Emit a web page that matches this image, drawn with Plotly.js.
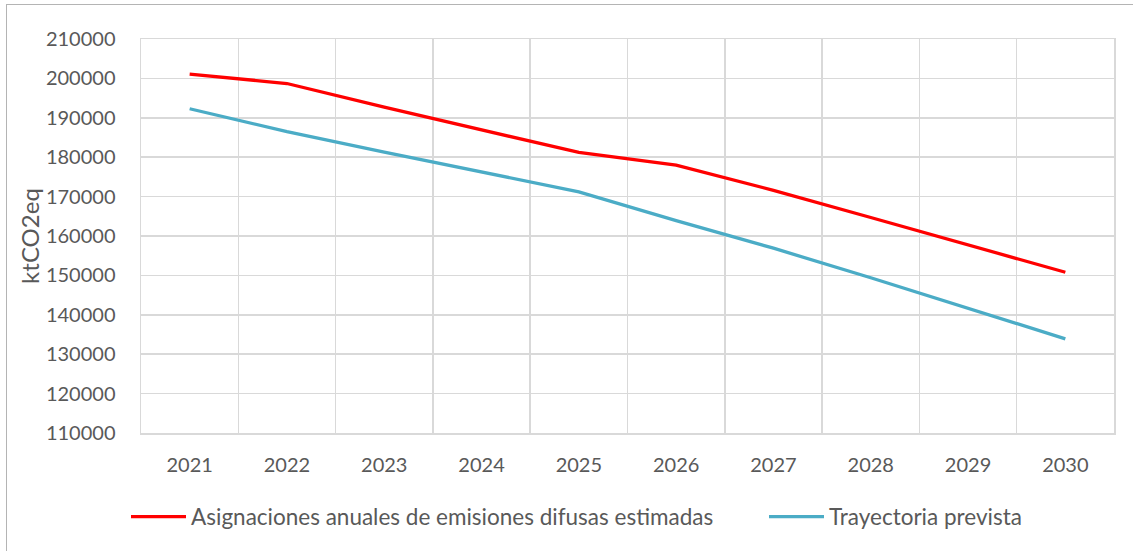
<!DOCTYPE html>
<html>
<head>
<meta charset="utf-8">
<script src="https://cdn.plot.ly/plotly-3.0.1.min.js"></script>
<style>
  html, body { margin: 0; padding: 0; background: #ffffff; }
  #wrap { position: relative; width: 1133px; height: 551px; overflow: hidden; }
  #chart { position: absolute; left: 0; top: 0; width: 1133px; height: 551px; }
  #frame { position: absolute; left: 6px; top: 4px; width: 1200px; height: 600px;
           border-left: 1px solid #b4b4b4; border-top: 1px solid #b4b4b4; pointer-events: none; }
</style>
</head>
<body>
<div id="wrap">
  <div id="chart"></div>
  <div id="frame"></div>
</div>
<script>
// ---- data ----
const years = ["2021", "2022", "2023", "2024", "2025", "2026", "2027", "2028", "2029", "2030"];
const asignaciones = [201100, 198700, 192700, 187000, 181200, 178000, 171600, 164700, 157700, 150800];
const trayectoria = [192300, 186500, 181300, 176200, 171200, 163900, 156900, 149400, 141600, 133900];
const seriesNames = ["Asignaciones anuales de emisiones difusas estimadas", "Trayectoria prevista"];
const yTitle = "ktCO2eq";

const idx = years.map((_, i) => i);
const boundaries = years.map((_, i) => i - 0.5).concat([years.length - 0.5]);

const font = "Lato, 'Open Sans', sans-serif";
const textColor = "#595959";
const gridColor = "#d9d9d9";

const traces = [
  { x: idx, y: asignaciones, name: seriesNames[0], type: "scatter", mode: "lines",
    line: { color: "#ff0000", width: 3.3 }, legend: "legend" },
  { x: idx, y: trayectoria, name: seriesNames[1], type: "scatter", mode: "lines",
    line: { color: "#4bacc6", width: 3.3 }, legend: "legend2" }
];

const legendBase = {
  orientation: "h", xanchor: "left", yanchor: "middle",
  xref: "container", yref: "container", y: 1 - 517 / 551,
  itemwidth: 55,
  font: { family: font, size: 22.5, color: textColor },
  bgcolor: "rgba(0,0,0,0)", borderwidth: 0
};

const layout = {
  width: 1133, height: 551,
  margin: { l: 141, r: 19, t: 39, b: 118, pad: 0 },
  paper_bgcolor: "rgba(0,0,0,0)",
  plot_bgcolor: "#ffffff",
  font: { family: font, size: 20, color: textColor },
  showlegend: true,
  legend: Object.assign({}, legendBase, { x: 126 / 1133 }),
  legend2: Object.assign({}, legendBase, { x: 764 / 1133 }),
  xaxis: {
    range: [-0.5, years.length - 0.5],
    tickmode: "array", tickvals: idx, ticktext: years,
    showgrid: false, zeroline: false,
    ticks: "", ticklabelstandoff: 13,
    showline: true, linecolor: gridColor, linewidth: 1.5, mirror: true,
    tickfont: { family: font, size: 20, color: textColor },
    minor: { tickmode: "array", tickvals: boundaries, showgrid: true,
             gridcolor: gridColor, gridwidth: 1.5, ticks: "" },
    fixedrange: true
  },
  yaxis: {
    range: [110000, 210000],
    tickmode: "linear", tick0: 110000, dtick: 10000,
    tickformat: "d",
    showgrid: true, gridcolor: gridColor, gridwidth: 1.5,
    zeroline: false, ticks: "", ticklabelstandoff: 20,
    showline: true, linecolor: gridColor, linewidth: 1.5, mirror: true,
    tickfont: { family: font, size: 20, color: textColor },
    title: { text: yTitle, font: { family: font, size: 24, color: textColor } },
    fixedrange: true
  }
};

Plotly.newPlot("chart", traces, layout, { displayModeBar: false, staticPlot: true });
</script>
</body>
</html>
